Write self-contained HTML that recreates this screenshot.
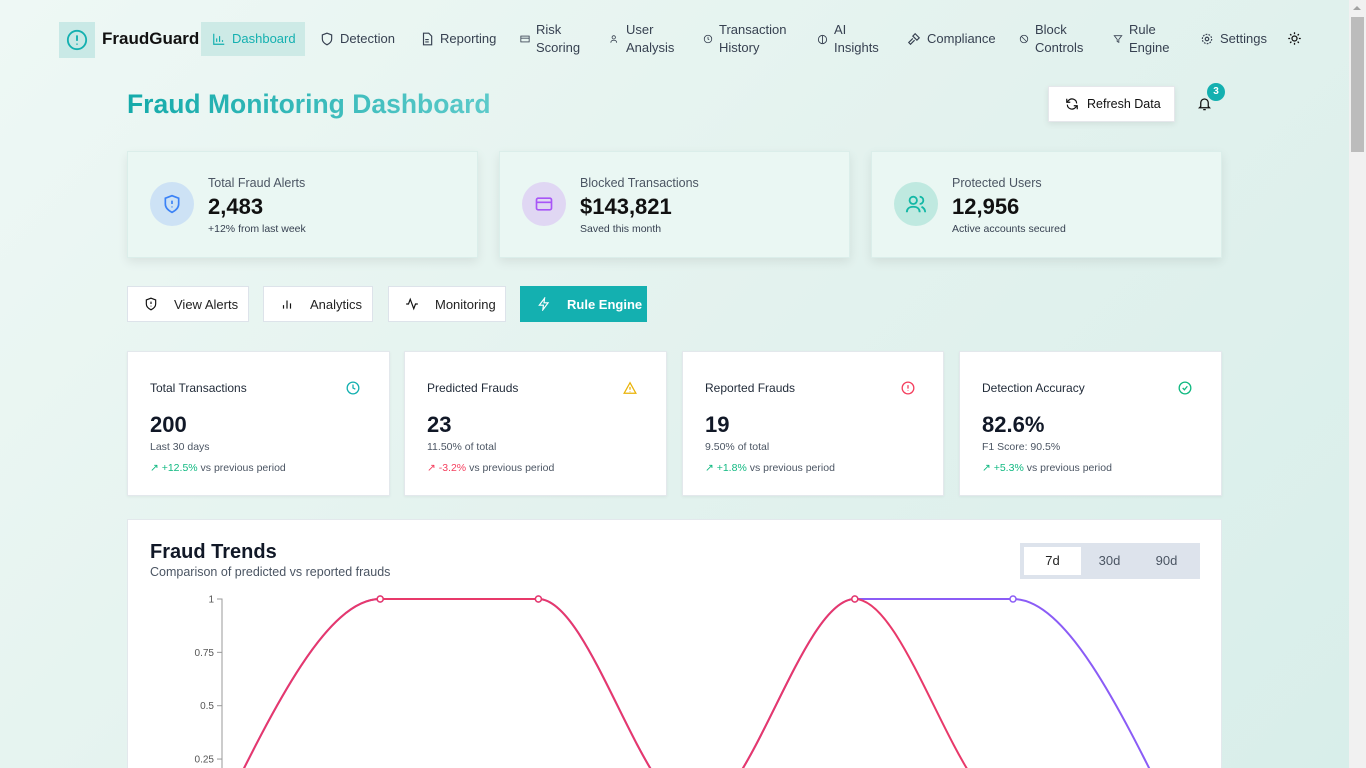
<!DOCTYPE html>
<html><head><meta charset="utf-8"><style>
*{box-sizing:border-box;margin:0;padding:0}
html,body{width:1366px;height:768px;overflow:hidden}
body{font-family:"Liberation Sans",sans-serif;background:linear-gradient(135deg,#eef8f5 0%,#e3f2ee 50%,#d8eeea 100%);position:relative;color:#111827}
.abs{position:absolute}
.nav{font-size:13px;color:#374151;display:flex;align-items:center;gap:6px;line-height:18px;white-space:nowrap}
.nav svg{flex:none}
.card{position:absolute;background:#eaf7f3;border:1px solid #dbeeea;box-shadow:0 4px 10px rgba(0,0,0,.08)}
.circ{position:absolute;left:22px;top:30px;width:44px;height:44px;border-radius:50%;display:flex;align-items:center;justify-content:center}
.ct{position:absolute;left:80px;top:24px;font-size:12.5px;color:#4b5563}
.cv{position:absolute;left:80px;top:42px;font-size:22px;font-weight:bold;color:#111}
.cs{position:absolute;left:80px;top:71px;font-size:10.5px;color:#374151}
.btn{position:absolute;top:286px;height:36px;background:#fff;border:1px solid #dde3ea;font-size:13px;color:#222;display:flex;align-items:center;padding-left:16px;gap:16px;white-space:nowrap}
.sc{position:absolute;top:351px;height:145px;background:#fff;border:1px solid #e3e8ec;box-shadow:0 1px 3px rgba(0,0,0,.05)}
.sc .t{position:absolute;left:22px;top:29px;font-size:12px;color:#1f2937}
.sc .v{position:absolute;left:22px;top:60px;font-size:22px;font-weight:bold;color:#111827}
.sc .s{position:absolute;left:22px;top:89px;font-size:10.5px;color:#4b5563}
.sc .d{position:absolute;left:22px;top:110px;font-size:10.5px;color:#4b5563}
.sc .i{position:absolute;left:218px;top:29px}
.g{color:#10b981}.r{color:#f43f5e}
</style></head><body>
<!-- nav -->
<div class="abs" style="left:59px;top:22px;width:36px;height:36px;background:#c9e9e6;display:flex;align-items:center;justify-content:center"><svg width="22" height="22" viewBox="0 0 24 24" fill="none" stroke="#14b0b0" stroke-width="2"><circle cx="12" cy="12" r="10"/><path d="M12 7v6M12 16v1"/></svg></div>
<div class="abs" style="left:102px;top:29px;font-size:17px;font-weight:bold;color:#111">FraudGuard</div>
<div class="abs nav" style="left:201px;top:22px;width:104px;height:34px;background:#cdeae6;color:#14b0b0;padding-left:11px"><svg width="14" height="14" viewBox="0 0 24 24" fill="none" stroke="#14b0b0" stroke-width="2"><path d="M3 3v18h18M8 17v-6M13 17V7M18 17v-3"/></svg>Dashboard</div>
<div class="abs nav" style="left:320px;top:30px"><svg width="14" height="14" viewBox="0 0 24 24" fill="none" stroke="#374151" stroke-width="2"><path d="M12 2l8 3v7c0 5-4 8-8 10-4-2-8-5-8-10V5z"/></svg>Detection</div>
<div class="abs nav" style="left:420px;top:30px"><svg width="14" height="14" viewBox="0 0 24 24" fill="none" stroke="#374151" stroke-width="2"><path d="M6 2h9l5 5v15H6zM9 13h6M9 17h6"/></svg>Reporting</div>
<div class="abs nav" style="left:520px;top:21px"><svg width="10" height="10" viewBox="0 0 24 24" fill="none" stroke="#374151" stroke-width="2"><rect x="2" y="5" width="20" height="14"/><path d="M2 10h20"/></svg><span>Risk<br>Scoring</span></div>
<div class="abs nav" style="left:610px;top:21px"><svg width="10" height="10" viewBox="0 0 24 24" fill="none" stroke="#374151" stroke-width="2"><circle cx="9" cy="8" r="4"/><path d="M2 21c0-4 3-6 7-6s7 2 7 6"/></svg><span>User<br>Analysis</span></div>
<div class="abs nav" style="left:703px;top:21px"><svg width="10" height="10" viewBox="0 0 24 24" fill="none" stroke="#374151" stroke-width="2"><circle cx="12" cy="12" r="9"/><path d="M12 7v5l3 2"/></svg><span>Transaction<br>History</span></div>
<div class="abs nav" style="left:817px;top:21px"><svg width="11" height="11" viewBox="0 0 24 24" fill="none" stroke="#374151" stroke-width="2"><circle cx="12" cy="12" r="9"/><path d="M12 4v16"/></svg><span>AI<br>Insights</span></div>
<div class="abs nav" style="left:907px;top:30px"><svg width="14" height="14" viewBox="0 0 24 24" fill="none" stroke="#374151" stroke-width="2"><path d="M14 3l7 7-4 4-7-7zM10 11l-7 7 3 3 7-7"/></svg>Compliance</div>
<div class="abs nav" style="left:1019px;top:21px"><svg width="10" height="10" viewBox="0 0 24 24" fill="none" stroke="#374151" stroke-width="2"><circle cx="12" cy="12" r="9"/><path d="M6 6l12 12"/></svg><span>Block<br>Controls</span></div>
<div class="abs nav" style="left:1113px;top:21px"><svg width="10" height="10" viewBox="0 0 24 24" fill="none" stroke="#374151" stroke-width="2"><path d="M3 4h18l-7 9v7l-4-2v-5z"/></svg><span>Rule<br>Engine</span></div>
<div class="abs nav" style="left:1200px;top:30px"><svg width="14" height="14" viewBox="0 0 24 24" fill="none" stroke="#374151" stroke-width="2"><circle cx="12" cy="12" r="3"/><circle cx="12" cy="12" r="8" stroke-dasharray="3 2"/></svg>Settings</div>
<div class="abs" style="left:1287px;top:31px"><svg width="15" height="15" viewBox="0 0 24 24" fill="none" stroke="#111" stroke-width="2"><circle cx="12" cy="12" r="4"/><path d="M12 2v3M12 19v3M2 12h3M19 12h3M5 5l2 2M17 17l2 2M5 19l2-2M17 7l2-2"/></svg></div>

<div class="abs" style="left:127px;top:89px;font-size:26.5px;font-weight:bold;background:linear-gradient(90deg,#14aaaa,#5ccaca);-webkit-background-clip:text;color:transparent;white-space:nowrap">Fraud Monitoring Dashboard</div>
<div class="abs" style="left:1048px;top:86px;width:127px;height:36px;background:#fff;border:1px solid #e5e7eb;box-shadow:0 2px 6px rgba(0,0,0,.08);display:flex;align-items:center;gap:8px;padding-left:16px;font-size:12.5px;color:#111;white-space:nowrap"><svg width="14" height="14" viewBox="0 0 24 24" fill="none" stroke="#111" stroke-width="2"><path d="M20 11a8 8 0 0 0-14-5L3 9M4 13a8 8 0 0 0 14 5l3-3M3 3v6h6M21 21v-6h-6"/></svg>Refresh Data</div>
<div class="abs" style="left:1197px;top:96px"><svg width="15" height="16" viewBox="0 0 24 24" fill="none" stroke="#111" stroke-width="2"><path d="M6 16V10a6 6 0 0 1 12 0v6l2 2H4zM10 21h4"/></svg></div>
<div class="abs" style="left:1207px;top:83px;width:18px;height:18px;border-radius:50%;background:#14b0b0;color:#fff;font-size:10px;font-weight:bold;text-align:center;line-height:18px">3</div>

<!-- summary cards -->
<div class="card" style="left:127px;top:151px;width:351px;height:107px">
<div class="circ" style="background:#cde2f5"><svg width="20" height="20" viewBox="0 0 24 24" fill="none" stroke="#3b82f6" stroke-width="2"><path d="M12 2l8 3v7c0 5-4 8-8 10-4-2-8-5-8-10V5z"/><path d="M12 8v4M12 15v1"/></svg></div>
<div class="ct">Total Fraud Alerts</div><div class="cv">2,483</div><div class="cs">+12% from last week</div></div>
<div class="card" style="left:499px;top:151px;width:351px;height:107px">
<div class="circ" style="background:#e0d7f3"><svg width="22" height="20" viewBox="0 0 24 24" fill="none" stroke="#a855f7" stroke-width="2"><rect x="3" y="5" width="18" height="14" rx="2"/><path d="M3 10h18"/></svg></div>
<div class="ct">Blocked Transactions</div><div class="cv">$143,821</div><div class="cs">Saved this month</div></div>
<div class="card" style="left:871px;top:151px;width:351px;height:107px">
<div class="circ" style="background:#bfe9e0"><svg width="22" height="22" viewBox="0 0 24 24" fill="none" stroke="#14b8a6" stroke-width="2"><circle cx="9" cy="8" r="4"/><path d="M2 21c0-4 3-6 7-6s7 2 7 6M16 4a4 4 0 0 1 0 8M22 21c0-3-2-5-4-6"/></svg></div>
<div class="ct">Protected Users</div><div class="cv">12,956</div><div class="cs">Active accounts secured</div></div>

<!-- buttons -->
<div class="btn" style="left:127px;width:122px"><svg width="14" height="14" viewBox="0 0 24 24" fill="none" stroke="#111" stroke-width="2"><path d="M12 2l8 3v7c0 5-4 8-8 10-4-2-8-5-8-10V5z"/><path d="M12 8v4M12 15v1"/></svg>View Alerts</div>
<div class="btn" style="left:263px;width:110px"><svg width="14" height="14" viewBox="0 0 24 24" fill="none" stroke="#111" stroke-width="2"><path d="M6 20v-6M12 20V6M18 20v-9"/></svg>Analytics</div>
<div class="btn" style="left:388px;width:118px"><svg width="14" height="14" viewBox="0 0 24 24" fill="none" stroke="#111" stroke-width="2"><path d="M2 12h4l3-8 6 16 3-8h4"/></svg>Monitoring</div>
<div class="btn" style="left:520px;width:127px;background:#14b0b0;border-color:#14b0b0;color:#fff;font-weight:bold"><svg width="14" height="14" viewBox="0 0 24 24" fill="none" stroke="#fff" stroke-width="2"><path d="M13 2L4 14h7l-1 8 9-12h-7z"/></svg>Rule Engine</div>

<!-- stat cards -->
<div class="sc" style="left:127px;width:263px"><div class="t">Total Transactions</div><svg class="i" width="14" height="14" viewBox="0 0 24 24" fill="none" stroke="#14b0b0" stroke-width="2.2"><circle cx="12" cy="12" r="10"/><path d="M12 6v6l4 2"/></svg><div class="v">200</div><div class="s">Last 30 days</div><div class="d"><span class="g">↗ +12.5%</span> vs previous period</div></div>
<div class="sc" style="left:404px;width:263px"><div class="t">Predicted Frauds</div><svg class="i" width="14" height="14" viewBox="0 0 24 24" fill="none" stroke="#eab308" stroke-width="2.2"><path d="M12 3L2 21h20zM12 10v5M12 18v1"/></svg><div class="v">23</div><div class="s">11.50% of total</div><div class="d"><span class="r">↗ -3.2%</span> vs previous period</div></div>
<div class="sc" style="left:682px;width:262px"><div class="t">Reported Frauds</div><svg class="i" width="14" height="14" viewBox="0 0 24 24" fill="none" stroke="#f43f5e" stroke-width="2.2"><circle cx="12" cy="12" r="10"/><path d="M12 7v6M12 16v1"/></svg><div class="v">19</div><div class="s">9.50% of total</div><div class="d"><span class="g">↗ +1.8%</span> vs previous period</div></div>
<div class="sc" style="left:959px;width:263px"><div class="t">Detection Accuracy</div><svg class="i" width="14" height="14" viewBox="0 0 24 24" fill="none" stroke="#10b981" stroke-width="2.2"><circle cx="12" cy="12" r="10"/><path d="M8 12l3 3 5-6"/></svg><div class="v">82.6%</div><div class="s">F1 Score: 90.5%</div><div class="d"><span class="g">↗ +5.3%</span> vs previous period</div></div>

<!-- chart card -->
<div class="abs" style="left:127px;top:519px;width:1095px;height:249px;background:#fff;border:1px solid #e3e8ec;border-bottom:none">
<div class="abs" style="left:22px;top:21px;font-size:20px;font-weight:bold;color:#111827">Fraud Trends</div>
<div class="abs" style="left:22px;top:45px;font-size:12.5px;color:#4b5563;white-space:nowrap">Comparison of predicted vs reported frauds</div>
<div class="abs" style="left:892px;top:23px;width:180px;height:36px;background:#dde3ec;padding:4px;display:flex;font-size:13px;color:#4b5563">
<div style="width:57px;background:#fff;text-align:center;line-height:28px;color:#222">7d</div>
<div style="width:57px;text-align:center;line-height:28px">30d</div>
<div style="width:57px;text-align:center;line-height:28px">90d</div></div>
</div>
<svg id="chart" class="abs" style="left:0;top:0" width="1349" height="768"></svg>

<!-- scrollbar -->
<div class="abs" style="left:1349px;top:0;width:17px;height:768px;background:#f1f1f1"><div style="position:absolute;left:2px;top:17px;width:13px;height:135px;background:#bcbcbc"></div><div style="position:absolute;left:4px;top:6px;width:0;height:0;border-left:4px solid transparent;border-right:4px solid transparent;border-bottom:4px solid #a3a3a3"></div></div>

<script>
const categories = ["D1","D2","D3","D4","D5","D6","D7"];
const predictedValues = [0,1,1,0,1,1,0];
const reportedValues = [0,1,1,0,1,0,0];
const yTicks = [0,0.25,0.5,0.75,1];
const yTickLabels = ["0","0.25","0.5","0.75","1"];

const NS="http://www.w3.org/2000/svg";
const svg=document.getElementById('chart');
const x0=222, step=158.2, yTop=599, yBottom=812.4;
function xScale(i){return x0+i*step;}
function yScale(v){return yBottom-(yBottom-yTop)*v;}
function mk(t,a){const e=document.createElementNS(NS,t);for(const k in a)e.setAttribute(k,a[k]);svg.appendChild(e);return e;}

const axis=mk('path',{d:`M217 ${yTop}H222V${yBottom}`,stroke:'#999',fill:'none','stroke-width':1});


yTicks.forEach((t,i)=>{
  const y=yScale(t);
  const tk=mk('line',{x1:217,x2:222,y1:y,y2:y,stroke:'#999'});
  
  
  const lb=mk('text',{x:214,y:y+3.5,'text-anchor':'end','font-size':10,fill:'#555','font-family':'Liberation Sans, sans-serif'});
  lb.textContent=yTickLabels[i];
  
  
});

function monotonePath(xs,ys){
  const n=xs.length, m=new Array(n), d=[];
  for(let i=0;i<n-1;i++)d.push((ys[i+1]-ys[i])/(xs[i+1]-xs[i]));
  for(let i=1;i<n-1;i++){const h0=xs[i]-xs[i-1],h1=xs[i+1]-xs[i],s0=d[i-1],s1=d[i];const p=(s0*h1+s1*h0)/(h0+h1);m[i]=(Math.sign(s0)+Math.sign(s1))*Math.min(Math.abs(s0),Math.abs(s1),0.5*Math.abs(p))||0;}
  m[0]=(3*d[0]-m[1])/2; if(Math.sign(m[0])!==Math.sign(d[0]))m[0]=0;
  m[n-1]=(3*d[n-2]-m[n-2])/2; if(Math.sign(m[n-1])!==Math.sign(d[n-2]))m[n-1]=0;
  let p=`M${xs[0]},${ys[0]}`;
  for(let i=0;i<n-1;i++){const dx=(xs[i+1]-xs[i])/3;p+=`C${xs[i]+dx},${ys[i]+m[i]*dx} ${xs[i+1]-dx},${ys[i+1]-m[i+1]*dx} ${xs[i+1]},${ys[i+1]}`;}
  return p;
}
function drawSeries(vals,color,name){
  const xs=vals.map((v,i)=>xScale(i)), ys=vals.map(v=>yScale(v));
  const pth=mk('path',{d:monotonePath(xs,ys),stroke:color,fill:'none','stroke-width':2});
  
  
  vals.forEach((v,i)=>{
    const c=mk('circle',{cx:xs[i],cy:ys[i],r:3,fill:'#fff',stroke:color,'stroke-width':1.5});
    
    
  });
}
drawSeries(predictedValues,'#8b5cf6','predicted');
drawSeries(reportedValues,'#e8396a','reported');
</script>
</body></html>
